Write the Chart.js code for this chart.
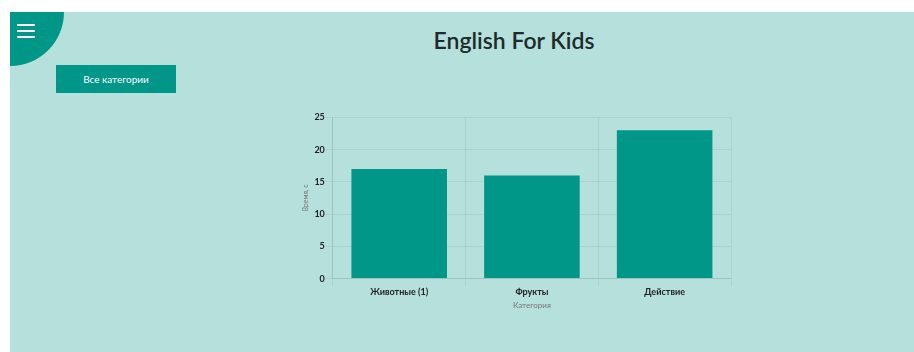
<!DOCTYPE html>
<html>
<head>
<meta charset="utf-8">
<script src="https://cdn.jsdelivr.net/npm/chart.js@4/dist/chart.umd.min.js"></script>
<style>
  html, body { margin: 0; padding: 0; background: #fff; }
  body { width: 914px; height: 352px; position: relative; overflow: hidden; font-family: 'Lato', sans-serif; }
  .page { position: absolute; left: 10px; top: 12px; right: 0; bottom: 0; background: #b5e0dc; overflow: hidden; }
  .burger { position: absolute; left: 0; top: 0; width: 54px; height: 54px; background: #009688; border-bottom-right-radius: 54px; }
  .burger span { position: absolute; left: 7px; width: 18px; height: 2px; background: #fff; border-radius: 1px; }
  h1 { position: absolute; left: 0; right: 0; top: 14px; margin: 0; text-align: center; padding-left: 104px;
       font-size: 23px; font-weight: 600; color: #1d2b2a; font-family: 'Lato', sans-serif; }
  .btn { position: absolute; left: 46px; top: 53px; width: 120px; height: 28px; background: #009688; color: #fff;
         font-size: 10px; line-height: 28px; text-align: center; }
  .wrap { position: absolute; left: 288px; top: 100px; width: 435px; height: 198px; }
</style>
</head>
<body>
<div class="page">
  <div class="burger"><span style="top:12px"></span><span style="top:18px"></span><span style="top:24px"></span></div>
  <h1>English For Kids</h1>
  <div class="btn">Все категории</div>
  <div class="wrap"><canvas id="myChart"></canvas></div>
</div>
<script>
  // data
  const categories = ['Животные (1)', 'Фрукты', 'Действие'];
  const times = [17, 16, 23];
  const yTicks = [0, 5, 10, 15, 20, 25];

  const data = {
    labels: categories,
    datasets: [{
      label: 'Время, с',
      data: times,
      backgroundColor: '#009688',
      borderWidth: 0
    }]
  };

  const config = {
    type: 'bar',
    data,
    options: {
      responsive: true,
      maintainAspectRatio: false,
      animation: false,
      layout: { padding: { right: 2, top: 4 } },
      plugins: {
        legend: { display: false },
        tooltip: { enabled: false }
      },
      scales: {
        x: {
          grid: { color: 'rgba(0,0,0,0.06)' },
          border: { color: 'rgba(0,0,0,0.08)' },
          ticks: { color: '#222', padding: 0, font: { size: 9, family: 'Lato', weight: 'bold' } },
          title: { display: true, text: 'Категория', color: '#777', font: { size: 8, family: 'Lato' }, padding: { top: 3, bottom: 0 } }
        },
        y: {
          min: 0,
          max: 25,
          afterBuildTicks: axis => { axis.ticks = yTicks.map(v => ({ value: v })); },
          grid: { color: 'rgba(0,0,0,0.06)' },
          border: { color: 'rgba(0,0,0,0.08)' },
          ticks: { color: '#222', padding: 0, font: { size: 9, family: 'Lato', weight: 'bold' } },
          title: { display: true, text: 'Время, с', color: '#777', font: { size: 7, family: 'Lato' }, padding: 4 }
        }
      }
    }
  };

  new Chart(document.getElementById('myChart'), config);
</script>
</body>
</html>
